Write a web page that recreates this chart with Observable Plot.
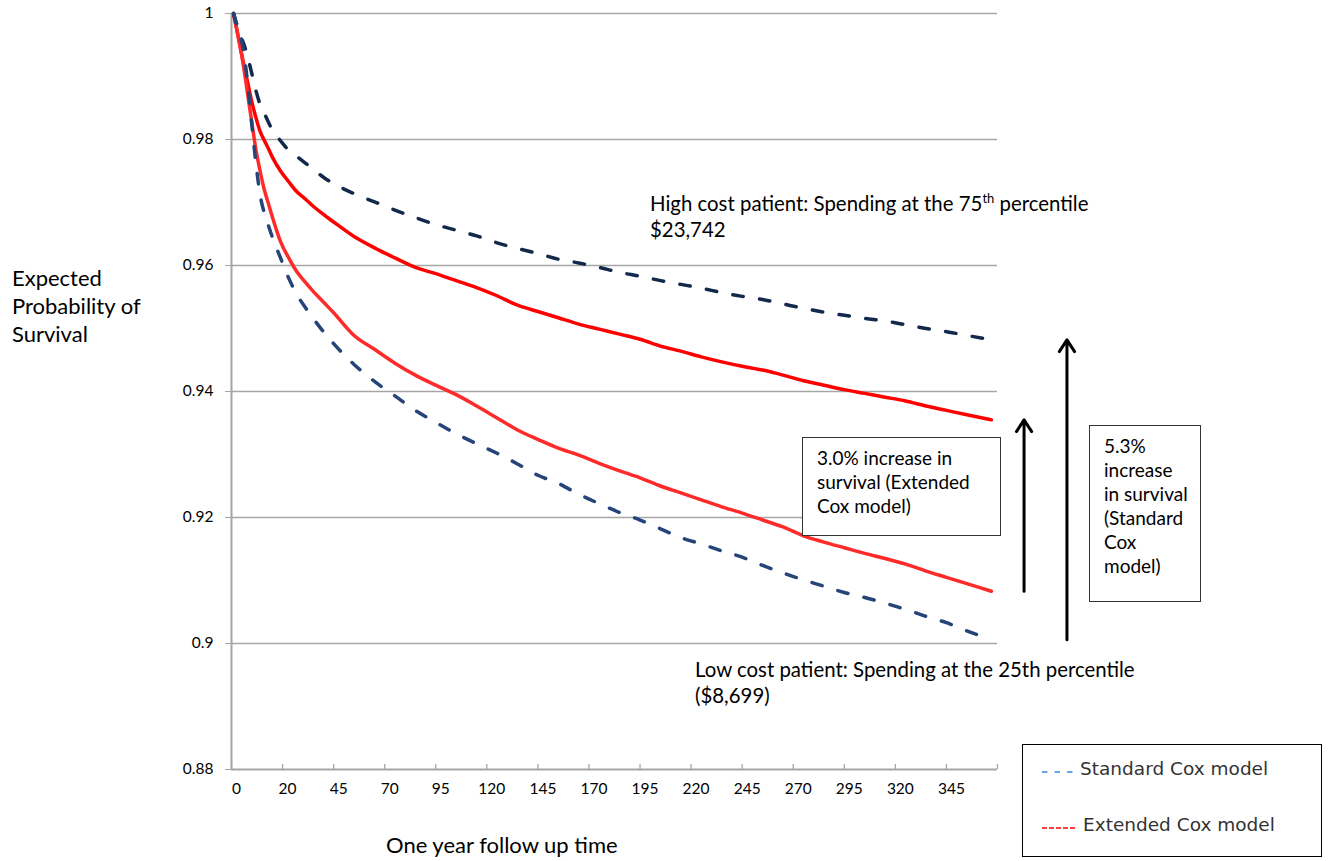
<!DOCTYPE html>
<html>
<head>
<meta charset="utf-8">
<script src="https://cdn.jsdelivr.net/npm/d3@7"></script>
<script src="https://cdn.jsdelivr.net/npm/@observablehq/plot@0.6"></script>
<style>
  body { margin: 0; background: #fff; }
  #wrap { position: relative; width: 1330px; height: 861px; overflow: hidden; font-family: Lato, "Open Sans", sans-serif; color: #000; }
  #chart { position: absolute; left: 0; top: 0; }
  .t { position: absolute; white-space: nowrap; font-size: 20.4px; line-height: 26px; }
  .sup { font-size: 13px; position: relative; top: -8px; line-height: 0; }
  .box { position: absolute; box-sizing: border-box; border: 1px solid #333; background: #fff;
         font-size: 19px; line-height: 24px; padding: 8px 0 0 14px; white-space: nowrap; }
  #legend { position: absolute; left: 1022px; top: 744px; width: 300px; height: 113px; box-sizing: border-box;
            border: 1.5px solid #000; background: #fff; font-family: "DejaVu Sans", sans-serif; font-size: 18.5px; color: #333; }
  #legend .item { position: absolute; white-space: nowrap; line-height: 22px; }
  #legend svg { position: absolute; overflow: visible; }
</style>
</head>
<body>
<div id="wrap">
  <div id="chart"></div>
  <div class="t" id="ytitle" style="left:12px; top:264px; line-height:28px; font-size:22px;">Expected<br>Probability of<br>Survival</div>
  <div class="t" id="xtitle" style="left:386px; top:832px; font-size:22px;">One year follow up time</div>
  <div class="t" style="left:650px; top:190px;">High cost patient: Spending at the 75<span class="sup">th</span> percentile<br>$23,742</div>
  <div class="t" style="left:695px; top:656px;">Low cost patient: Spending at the 25th percentile<br>($8,699)</div>
  <div class="box" style="left:802px; top:437px; width:199px; height:99px;">3.0% increase in<br>survival (Extended<br>Cox model)</div>
  <div class="box" style="left:1089px; top:425px; width:112px; height:177px;">5.3%<br>increase<br>in survival<br>(Standard<br>Cox<br>model)</div>
  <div id="legend">
    <svg style="left:19px; top:26px;" width="34" height="2"><line x1="0" y1="1" x2="32" y2="1" stroke="#3a8edb" stroke-width="1.4" stroke-dasharray="5.5,7"/></svg>
    <div class="item" style="left:57px; top:13px;">Standard Cox model</div>
    <svg style="left:19px; top:82px;" width="36" height="2"><line x1="0" y1="1" x2="35" y2="1" stroke="#ff0000" stroke-width="1.4" stroke-dasharray="5,2"/></svg>
    <div class="item" style="left:60px; top:69px;">Extended Cox model</div>
  </div>
</div>
<script>
// time index (category position along the follow-up axis)
const idx = [1,2,4,6,8,10,12,14,16,18,20,24,28,32,36,40,45,50,60,70,80,90,100,110,120,130,140,150,160,170,180,190,200,210,220,230,240,250,260,270,280,290,300,310,320,330,340,350,360,372];

// Standard Cox model, high cost patient (75th percentile)
const stdHigh = [1.0,0.9989,0.9966,0.9952,0.9930,0.9904,0.9877,0.9856,0.9842,0.9828,0.9815,0.9798,0.9783,0.9773,0.9763,0.9753,0.9740,0.9730,0.9714,0.9701,0.9688,0.9676,0.9665,0.9656,0.9647,0.9636,0.9627,0.9619,0.9610,0.9604,0.9597,0.9589,0.9583,0.9576,0.9570,0.9564,0.9557,0.9551,0.9546,0.9539,0.9532,0.9526,0.9521,0.9516,0.9512,0.9506,0.9500,0.9495,0.9489,0.9482];

// Extended Cox model, high cost patient
const extHigh = [1.0,0.9984,0.9951,0.9919,0.9889,0.9859,0.9834,0.9813,0.9799,0.9786,0.9772,0.9750,0.9733,0.9717,0.9706,0.9694,0.9681,0.9669,0.9646,0.9628,0.9612,0.9597,0.9587,0.9576,0.9565,0.9552,0.9537,0.9527,0.9517,0.9507,0.9499,0.9491,0.9483,0.9472,0.9464,0.9455,0.9447,0.9440,0.9434,0.9426,0.9417,0.9410,0.9403,0.9397,0.9391,0.9385,0.9377,0.9370,0.9363,0.9355];

// Extended Cox model, low cost patient (25th percentile)
const extLow = [1.0,0.9984,0.9952,0.9914,0.9870,0.9826,0.9783,0.9750,0.9721,0.9699,0.9677,0.9638,0.9612,0.9590,0.9574,0.9559,0.9542,0.9525,0.9489,0.9467,0.9445,0.9426,0.9410,0.9395,0.9377,0.9358,0.9339,0.9324,0.9310,0.9299,0.9286,0.9274,0.9263,0.9250,0.9239,0.9228,0.9217,0.9207,0.9196,0.9185,0.9171,0.9161,0.9152,0.9143,0.9135,0.9126,0.9115,0.9105,0.9095,0.9083];

// Standard Cox model, low cost patient
const stdLow = [1.0,0.9989,0.9968,0.9939,0.9886,0.9822,0.9761,0.9712,0.9684,0.9664,0.9645,0.9612,0.9580,0.9554,0.9534,0.9516,0.9495,0.9476,0.9443,0.9416,0.9393,0.9370,0.9351,0.9333,0.9317,0.9302,0.9285,0.9267,0.9254,0.9237,0.9222,0.9208,0.9196,0.9182,0.9168,0.9158,0.9147,0.9137,0.9124,0.9112,0.9101,0.9091,0.9081,0.9073,0.9064,0.9054,0.9043,0.9033,0.9020,0.9006];

// axis ticks
const xTickIdx = [0,25,50,75,100,125,150,175,200,225,250,275,300,325,350,375];
const xTickLabels = ["0","20","45","70","95","120","145","170","195","220","245","270","295","320","345"];
const yTicks = [0.88,0.90,0.92,0.94,0.96,0.98,1.0];

const rows = (vals) => idx.map((i, k) => ({i, v: vals[k]}));
const last = idx.length - 1;
const arrows = [
  {x: idx[last] + 16, y1: extLow[last], y2: extHigh[last]},
  {x: idx[last] + 37, y1: stdLow[last], y2: stdHigh[last]}
];

const grid = "#a6a6a6";
const chart = Plot.plot({
  width: 1330, height: 861,
  marginLeft: 231, marginRight: 333, marginTop: 13, marginBottom: 92,
  style: {fontFamily: "Lato, 'Open Sans', sans-serif", fontSize: "15.5px", color: "#000", background: "transparent", overflow: "visible"},
  x: {domain: [0, 375], axis: null},
  y: {domain: [0.88, 1], axis: null},
  marks: [
    Plot.ruleY(yTicks.slice(1), {stroke: grid, strokeWidth: 1.3}),
    Plot.ruleY([0.88], {stroke: grid, strokeWidth: 2}),
    Plot.ruleX([0], {stroke: grid, strokeWidth: 2}),
    Plot.tickX(xTickIdx, {x: d => d, stroke: grid, strokeWidth: 1.3, insetTop: 751}),
    Plot.axisY({ticks: yTicks, tickSize: 6, tickPadding: 12, tickFormat: d => String(+d.toFixed(2)), stroke: grid, fill: "#000", label: null}),
    Plot.axisX({ticks: xTickIdx.slice(0, 15), tickSize: 0, tickPadding: 13, dx: 5, tickFormat: d => xTickLabels[xTickIdx.indexOf(d)], fill: "#000", label: null}),
    Plot.line(rows(extHigh), {x: "i", y: "v", stroke: "#ff0000", strokeWidth: 3.5, curve: "monotone-x"}),
    Plot.line(rows(extLow), {x: "i", y: "v", stroke: "#ff2b2b", strokeWidth: 3.5, curve: "monotone-x"}),
    Plot.line(rows(stdHigh), {x: "i", y: "v", stroke: "#13294b", strokeWidth: 3.5, strokeDasharray: "10.5,16.5", strokeLinecap: "round", curve: "monotone-x"}),
    Plot.line(rows(stdLow), {x: "i", y: "v", stroke: "#264478", strokeWidth: 3.5, strokeDasharray: "10.5,16.5", strokeLinecap: "round", curve: "monotone-x"}),
    Plot.arrow(arrows, {x: "x", y1: "y1", y2: "y2", stroke: "#000", strokeWidth: 3, headLength: 7, headAngle: 66, strokeLinejoin: "miter"})
  ]
});
document.getElementById("chart").appendChild(chart);
</script>
</body>
</html>
